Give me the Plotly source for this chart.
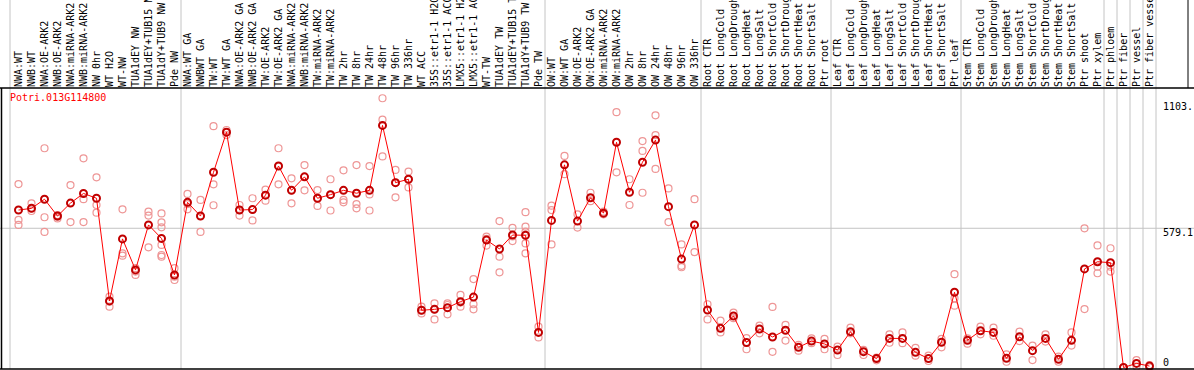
import plotly.graph_objects as go

gene = "Potri.013G114800"

samples = [
    "NWA:WT", "NWB:WT", "NWA:OE-ARK2", "NWB:OE-ARK2", "NWA:miRNA-ARK2", "NWB:miRNA-ARK2",
    "NW 0hr", "WT H2O", "WT-NW", "TUA1dEY NW", "TUA1dEY+TUB15 NW", "TUA1dY+TUB9 NW", "Pde NW",
    "NWA:WT GA", "NWBWT GA", "TW:WT", "TW:WT GA", "NWA:OE-ARK2 GA", "NWB:OE-ARK2 GA",
    "TW:OE-ARK2", "TW:OE-ARK2 GA", "NWA:miRNA-ARK2", "NWB:miRNA-ARK2", "TW:miRNA-ARK2",
    "TW:miRNA-ARK2", "TW 2hr", "TW 8hr", "TW 24hr", "TW 48hr", "TW 96hr", "TW 336hr", "WT ACC",
    "35S::etr1-1 H2O", "35S::etr1-1 ACC", "LMX5::etr1-1 H2O", "LMX5::etr1-1 ACC", "WT-TW",
    "TUA1dEY TW", "TUA1dEY+TUB15 TW", "TUA1dY+TUB9 TW", "Pde TW",
    "OW:WT", "OW:WT GA", "OW:OE-ARK2", "OW:OE-ARK2 GA", "OW:miRNA-ARK2", "OW:miRNA-ARK2",
    "OW 2hr", "OW 8hr", "OW 24hr", "OW 48hr", "OW 96hr", "OW 336hr",
    "Root CTR", "Root LongCold", "Root LongDrought", "Root LongHeat", "Root LongSalt",
    "Root ShortCold", "Root ShortDrought", "Root ShortHeat", "Root ShortSalt", "Ptr root",
    "Leaf CTR", "Leaf LongCold", "Leaf LongDrought", "Leaf LongHeat", "Leaf LongSalt",
    "Leaf ShortCold", "Leaf ShortDrought", "Leaf ShortHeat", "Leaf ShortSalt", "Ptr leaf",
    "Stem CTR", "Stem LongCold", "Stem LongDrought", "Stem LongHeat", "Stem LongSalt",
    "Stem ShortCold", "Stem ShortDrought", "Stem ShortHeat", "Stem ShortSalt", "Ptr shoot",
    "Ptr xylem", "Ptr phloem", "Ptr fiber", "Ptr vessel", "Ptr fiber vessel",
]

means = [
    655, 662, 700, 630, 684, 724, 704, 277, 535, 406, 593, 537, 385,
    687, 630, 812, 979, 655, 657, 717, 838, 737, 793, 704, 719, 737, 725, 737, 1007, 769,
    783, 238, 242, 249, 274, 293, 530, 493, 551, 550, 146,
    612, 843, 609, 706, 642, 937, 729, 854, 946, 669, 451, 593,
    239, 163, 214, 104, 160, 127, 155, 84, 110, 98,
    73, 149, 66, 37, 121, 121, 63, 37, 105, 313,
    113, 153, 146, 38, 128, 70, 121, 34, 113, 410, 440,
    436, 0, 17, 6,
]

replicates = [
    [763, 614, 593], [683, 651, 662], [912, 625, 564], [634, 620, 627], [759, 605, 684],
    [870, 700, 605], [791, 676, 644], [295, 253, 274], [658, 475, 465], [413, 385, 399],
    [648, 632, 500], [641, 604, 583, 510, 468, 461], [413, 364, 378],
    [722, 658, 680], [697, 564, 630], [1004, 762, 675], [988, 979, 967], [676, 632, 655],
    [704, 612, 657], [740, 694, 717], [912, 762, 838], [787, 683, 737], [842, 737, 793],
    [738, 672, 704], [783, 653, 719], [820, 697, 687], [842, 680, 662], [838, 720, 653],
    [1120, 1031, 878], [822, 708, 769], [815, 749, 783], [253, 225, 238], [267, 200, 242],
    [267, 221, 260], [302, 253, 270], [368, 263, 242], [544, 507, 535], [609, 461, 396],
    [581, 526, 545], [646, 586, 565, 516, 475], [170, 125, 146],
    [673, 655, 512], [880, 804], [637, 582], [727, 692], [648, 637], [1062, 812],
    [783, 676], [942, 901, 727], [1049, 967, 826], [745, 605], [512, 423, 417], [700, 480],
    [263, 200], [195, 146], [228, 205], [122, 76], [174, 142], [252, 65], [177, 112],
    [94, 70], [121, 101], [119, 76],
    [87, 52], [166, 142], [73, 52], [41, 30], [138, 103], [146, 101], [82, 49], [49, 27],
    [119, 84], [388, 288, 257],
    [121, 99], [170, 138], [166, 132], [55, 24], [149, 110], [91, 31], [138, 108], [45, 24],
    [146, 91], [579, 243], [508, 419, 392],
    [496, 419, 399], [0, 0], [31, 4], [10, 0],
]

group_sizes = [13, 28, 12, 10, 10, 11, 1, 1, 1, 1]
ytick_vals = [1103, 579.1, 0]
ytick_text = ["1103.", "579.1", "0"]

W, H = 1194, 370
TOP, BOT = 88, 1
COL = 13
x0px = 12
xmin = -0.5 - x0px / COL
xmax = xmin + W / COL
ypx_per = 0.2404
ymin = -(H - BOT - 367.5) / ypx_per
ymax = (367.5 - TOP) / ypx_per

xs = list(range(len(samples)))
rx, ry = [], []
for i, reps in enumerate(replicates):
    for v in reps:
        rx.append(i)
        ry.append(v)

fig = go.Figure()
fig.add_trace(go.Scatter(
    x=rx, y=ry, mode="markers",
    marker=dict(symbol="circle-open", size=7, color="rgb(238,150,150)",
                line=dict(width=1.2, color="rgb(238,150,150)")),
    hoverinfo="skip", showlegend=False, cliponaxis=False))
fig.add_trace(go.Scatter(
    x=xs, y=means, mode="lines+markers",
    line=dict(color="#ff0000", width=1),
    marker=dict(symbol="circle-open", size=7, color="#c00000",
                line=dict(width=2, color="#c00000")),
    showlegend=False, cliponaxis=False))

shapes = []
ext = 1 + TOP / (H - TOP - BOT)
gray = "#c4c4c4"
shapes.append(dict(type="line", xref="paper", yref="paper", x0=10 / W, x1=10 / W,
                   y0=0, y1=ext, line=dict(color=gray, width=1), layer="below"))
b = 0
for g in group_sizes:
    b += g
    shapes.append(dict(type="line", xref="x", yref="paper", x0=b - 0.5, x1=b - 0.5,
                       y0=0, y1=ext, line=dict(color=gray, width=1), layer="below"))
shapes.append(dict(type="line", xref="paper", yref="y", x0=0, x1=1, y0=579.1, y1=579.1,
                   line=dict(color=gray, width=1), layer="below"))
shapes.append(dict(type="line", xref="paper", yref="paper", x0=0, x1=1, y0=1, y1=1,
                   line=dict(color="black", width=1.5)))
shapes.append(dict(type="line", xref="paper", yref="paper", x0=0, x1=1, y0=0, y1=0,
                   line=dict(color="black", width=1.5)))
shapes.append(dict(type="line", xref="paper", yref="paper", x0=1.5 / W, x1=1.5 / W, y0=0, y1=1,
                   line=dict(color="black", width=1.5)))
shapes.append(dict(type="line", xref="paper", yref="paper", x0=1188 / W, x1=1188 / W, y0=1, y1=ext,
                   line=dict(color="black", width=1)))

annotations = [dict(text=gene, xref="paper", yref="paper", x=8 / W, y=1, xanchor="left",
                    yanchor="top", yshift=-2, showarrow=False,
                    font=dict(family="DejaVu Sans Mono", size=10, color="#ff0000"))]
shifts = [-4, -4, 5.5]
for v, t, s in zip(ytick_vals, ytick_text, shifts):
    annotations.append(dict(text=t, xref="paper", yref="y", x=1161 / W, y=v, xanchor="left",
                            yanchor="middle", yshift=s, showarrow=False,
                            font=dict(family="DejaVu Sans Mono", size=10, color="black")))

fig.update_layout(
    width=W, height=H,
    margin=dict(l=0, r=0, t=TOP, b=BOT, pad=0, autoexpand=False),
    paper_bgcolor="white", plot_bgcolor="white",
    xaxis=dict(range=[xmin, xmax], side="top", tickmode="array", tickvals=xs,
               ticktext=samples, tickangle=-90, showgrid=False, zeroline=False,
               showline=False, ticks="", ticklen=0, automargin=False,
               tickfont=dict(family="DejaVu Sans Mono", size=10, color="black")),
    yaxis=dict(range=[ymin, ymax], showgrid=False, zeroline=False, showticklabels=False,
               showline=False, ticks="", automargin=False),
    shapes=shapes, annotations=annotations,
)
fig.write_html("out.html", config={"displayModeBar": False},
               post_script="document.body.style.margin='0';document.body.style.overflow='hidden';")
